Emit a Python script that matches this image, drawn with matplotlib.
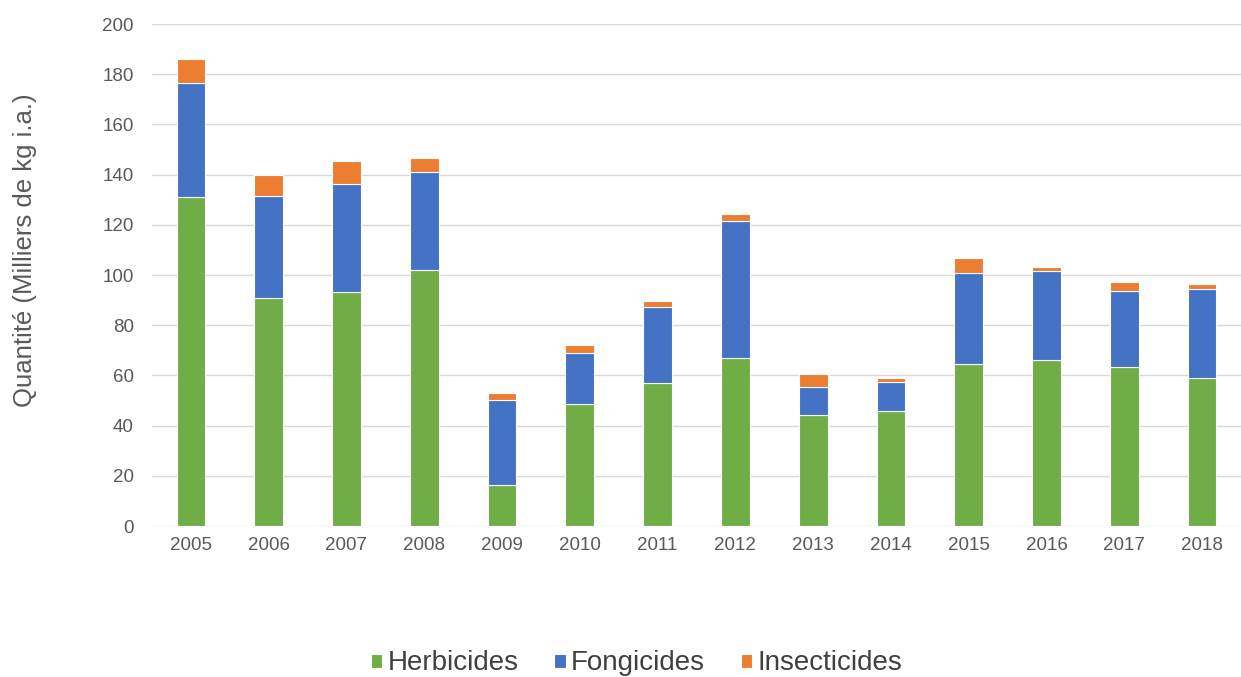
import numpy as np
import matplotlib.pyplot as plt

plt.rcParams['font.family'] = ['Liberation Sans', 'DejaVu Sans']

years = ['2005', '2006', '2007', '2008', '2009', '2010', '2011',
         '2012', '2013', '2014', '2015', '2016', '2017', '2018']
herbicides = [131.2, 90.8, 93.3, 102.0, 16.5, 48.6, 57.1, 67.0, 44.2, 45.9, 64.4, 66.1, 63.5, 59.1]
fongicides = [45.4, 40.8, 43.0, 39.2, 33.7, 20.4, 30.0, 54.6, 11.3, 11.4, 36.3, 35.6, 30.1, 35.4]
insecticides = [9.4, 8.2, 9.1, 5.5, 2.9, 3.0, 2.5, 2.7, 5.1, 1.8, 6.2, 1.6, 3.5, 1.8]

colors = ['#70AD47', '#4472C4', '#ED7D31']
labels = ['Herbicides', 'Fongicides', 'Insecticides']

fig = plt.figure(figsize=(12.41, 6.77), dpi=100)
ax = fig.add_axes([0.1225, 0.223, 0.8775, 0.7415])

x = np.arange(len(years))
bottom = np.zeros(len(years))
for vals, c, lab in zip([herbicides, fongicides, insecticides], colors, labels):
    ax.bar(x, vals, 0.37, bottom=bottom, color=c, label=lab,
           edgecolor='white', linewidth=0.8, zorder=3)
    bottom += np.array(vals)

ax.set_xlim(-0.5, 13.5)
ax.set_ylim(0, 200)
ax.set_yticks(range(0, 201, 20))
ax.set_xticks(x)
ax.set_xticklabels(years)
ax.grid(axis='y', color='#d9d9d9', linewidth=1, zorder=0)
for s in ax.spines.values():
    s.set_visible(False)
ax.tick_params(axis='both', length=0, labelsize=13.5, colors='#595959')
ax.tick_params(axis='y', pad=13)
ax.tick_params(axis='x', pad=8)
fig.text(25 / 1241, 0.631, 'Quantité (Milliers de kg i.a.)', rotation=90,
         ha='center', va='center', fontsize=18.5, color='#595959')

leg = fig.legend(loc='center', bbox_to_anchor=(0.513, 0.02), ncol=3, frameon=False,
                 fontsize=20, handlelength=0.4, handleheight=0.4, handletextpad=0.2,
                 columnspacing=1.3, labelcolor='#404040')

fig.savefig('out.png', dpi=100)
